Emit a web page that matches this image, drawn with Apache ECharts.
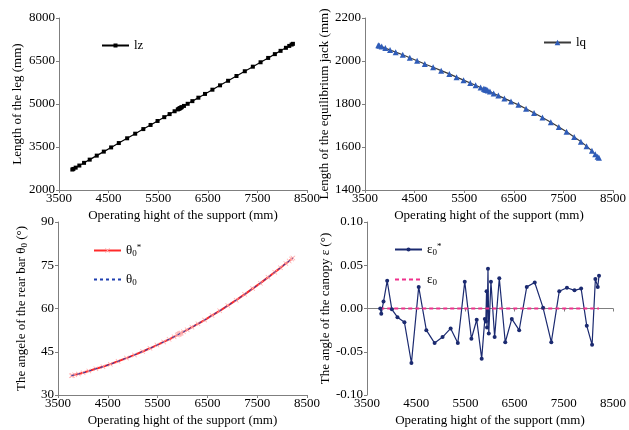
<!DOCTYPE html>
<html>
<head>
<meta charset="utf-8">
<script src="https://cdn.jsdelivr.net/npm/echarts@6/dist/echarts.min.js"></script>
<style>
html, body { margin: 0; padding: 0; background: #fff; }
#chart { width: 629px; height: 430px; }
</style>
</head>
<body>
<div id="chart"></div>
<script>
// operating height of the support (mm), shared by all four panels
const heights = [3769, 3790, 3836, 3910, 4005, 4119, 4261, 4403, 4551, 4706, 4874, 5036, 5200, 5346, 5487,
  5622, 5730, 5831, 5895, 5915, 5930, 5940, 5959, 5975, 6019, 6094, 6189, 6310, 6443, 6593, 6747, 6909,
  7078, 7246, 7408, 7564, 7717, 7852, 7967, 8075, 8142, 8190, 8216]
const lz = [2714, 2735, 2780, 2853, 2947, 3059, 3199, 3339, 3485, 3638, 3804, 3964, 4125, 4269, 4408,
  4541, 4648, 4747, 4811, 4830, 4845, 4855, 4874, 4890, 4933, 5007, 5100, 5220, 5351, 5499, 5651, 5810,
  5977, 6143, 6302, 6456, 6607, 6740, 6854, 6960, 7026, 7073, 7099]
const lq = [2073, 2071, 2067, 2060, 2051, 2041, 2029, 2015, 2001, 1986, 1971, 1955, 1940, 1925, 1911,
  1898, 1887, 1877, 1871, 1869, 1868, 1867, 1865, 1863, 1858, 1849, 1839, 1826, 1812, 1796, 1778, 1758,
  1737, 1715, 1693, 1671, 1646, 1625, 1604, 1582, 1566, 1555, 1550]
const thetaStar = [36.7, 36.8, 37.0, 37.3, 37.7, 38.3, 39.1, 39.8, 40.7, 41.7, 42.8, 43.9, 45.1, 46.2, 47.3,
  48.4, 49.3, 50.2, 50.8, 51.0, 51.1, 51.2, 51.4, 51.5, 51.9, 52.6, 53.5, 54.7, 56.0, 57.6, 59.2, 61.0,
  62.9, 64.9, 66.9, 68.8, 70.8, 72.6, 74.1, 75.6, 76.5, 77.2, 77.5]
const theta = [36.7, 36.8, 37.0, 37.3, 37.7, 38.3, 39.1, 39.8, 40.7, 41.7, 42.8, 43.9, 45.1, 46.2, 47.3,
  48.4, 49.3, 50.2, 50.8, 51.0, 51.1, 51.2, 51.4, 51.5, 51.9, 52.6, 53.5, 54.7, 56.0, 57.6, 59.2, 61.0,
  62.9, 64.9, 66.9, 68.8, 70.8, 72.6, 74.1, 75.6, 76.5, 77.2, 77.5]
const epsStar = [0.000, -0.006, 0.008, 0.032, -0.001, -0.010, -0.016, -0.063, 0.025, -0.025, -0.040, -0.033,
  -0.023, -0.040, 0.031, -0.035, -0.013, -0.058, -0.012, -0.015, 0.020, -0.022, 0.046, -0.029, 0.031,
  -0.033, 0.035, -0.039, -0.012, -0.025, 0.025, 0.030, 0.001, -0.039, 0.020, 0.024, 0.021, 0.023,
  -0.020, -0.042, 0.034, 0.025, 0.038]
const epsHeights = [3769, 8216]
const eps = [0, 0]

const font = "'Liberation Serif', 'Times New Roman', serif"
const axisGray = '#7f7f7f'
const pairs = (xs, ys) => xs.map((x, i) => [x, ys[i]])
const crossSymbol = 'path://M0,1L1,0L5,4L9,0L10,1L6,5L10,9L9,10L5,6L1,10L0,9L4,5Z'

const xAxis = (gridIndex) => ({
  type: 'value',
  gridIndex,
  min: 3500,
  max: 8500,
  interval: 1000,
  name: 'Operating hight of the support (mm)',
  nameLocation: 'middle',
  nameGap: 19,
  nameTextStyle: { fontFamily: font, fontSize: 13, color: '#000' },
  axisLine: { lineStyle: { color: axisGray } },
  axisTick: { length: 3, lineStyle: { color: axisGray } },
  axisLabel: { color: '#000', fontFamily: font, fontSize: 13, margin: 2, formatter: (v) => String(v) },
  splitLine: { show: false }
})

const yAxis = (gridIndex, min, max, interval, name, nameGap, fmt) => ({
  type: 'value',
  gridIndex,
  min,
  max,
  interval,
  name,
  nameLocation: 'middle',
  nameRotate: 90,
  nameGap,
  nameTextStyle: {
    fontFamily: font, fontSize: 13, color: '#000',
    rich: {
      a: { fontFamily: font, fontSize: 13, color: '#000' },
      s: { fontFamily: font, fontSize: 9, color: '#000', padding: [5, 0, 0, 0] }
    }
  },
  axisLine: { show: true, lineStyle: { color: axisGray } },
  axisTick: { show: true, length: 3, lineStyle: { color: axisGray } },
  axisLabel: { color: '#000', fontFamily: font, fontSize: 13, margin: 4, formatter: fmt || ((v) => String(v)) },
  splitLine: { show: false }
})

const legendRich = {
  a: { fontFamily: font, fontSize: 13, color: '#000' },
  sub: { fontFamily: font, fontSize: 9, color: '#000', padding: [6, 0, 0, 0] },
  sup: { fontFamily: font, fontSize: 9, color: '#000', padding: [0, 0, 6, 0] }
}
const legendLabels = {
  lz: '{a|lz}',
  lq: '{a|lq}',
  thetaStar: '{a|θ}{sub|0}{sup|*}',
  theta: '{a|θ}{sub|0}',
  epsStar: '{a|ε}{sub|0}{sup|*}',
  eps: '{a|ε}{sub|0}'
}
const legend = (items, left, top, itemHeight) => ({
  data: items,
  left,
  top,
  orient: 'vertical',
  itemWidth: 27,
  itemHeight,
  itemGap: 14 - itemHeight + 7,
  padding: 0,
  formatter: (n) => legendLabels[n],
  textStyle: { fontFamily: font, fontSize: 13, color: '#000', rich: legendRich }
})

const chart = echarts.init(document.getElementById('chart'))
chart.setOption({
  animation: false,
  backgroundColor: '#fff',
  grid: [
    { left: 59, top: 18, width: 248, height: 172 },
    { left: 365, top: 18, width: 249, height: 172 },
    { left: 58, top: 222, width: 249, height: 173 },
    { left: 367, top: 222, width: 247, height: 173 }
  ],
  xAxis: [xAxis(0), xAxis(1), xAxis(2), xAxis(3)],
  yAxis: [
    yAxis(0, 2000, 8000, 1500, 'Length of the leg (mm)', 35),
    yAxis(1, 1400, 2200, 200, 'Length of the equilibrium jack (mm)', 30),
    yAxis(2, 30, 90, 15, '{a|The angele of the rear bar θ}{s|0}{a| (°)}', 29),
    yAxis(3, -0.10, 0.10, 0.05, 'The angle of the canopy ε (°)', 35, (v) => v.toFixed(2))
  ],
  legend: [
    legend(['lz'], 101, 39, 5),
    legend(['lq'], 543, 36, 7),
    legend(['thetaStar', { name: 'theta', itemStyle: { opacity: 0 } }], 93, 243, 6),
    legend(['epsStar', { name: 'eps', itemStyle: { opacity: 0 } }], 394, 242, 5)
  ],
  series: [
    {
      name: 'lz', type: 'line', xAxisIndex: 0, yAxisIndex: 0,
      data: pairs(heights, lz),
      symbol: 'rect', symbolSize: 4,
      lineStyle: { color: '#000', width: 1.2 },
      itemStyle: { color: '#000' }
    },
    {
      name: 'lq', type: 'line', xAxisIndex: 1, yAxisIndex: 1,
      data: pairs(heights, lq),
      symbol: 'triangle', symbolSize: 6,
      lineStyle: { color: '#3b3b3b', width: 1.2 },
      itemStyle: { color: '#2f5cb8' }
    },
    {
      name: 'thetaStar', type: 'line', xAxisIndex: 2, yAxisIndex: 2,
      data: pairs(heights, thetaStar),
      symbol: crossSymbol, symbolSize: 5,
      lineStyle: { color: '#ff2a2a', width: 2 },
      itemStyle: { color: '#ffaaaa' }
    },
    {
      name: 'theta', type: 'line', xAxisIndex: 2, yAxisIndex: 2,
      data: pairs(heights, theta),
      symbol: 'none',
      lineStyle: { color: '#1f3fb0', width: 1, type: [3, 3] },
      itemStyle: { color: '#1f3fb0' },
      z: 5
    },
    {
      name: 'epsStar', type: 'line', xAxisIndex: 3, yAxisIndex: 3,
      data: pairs(heights, epsStar),
      symbol: 'circle', symbolSize: 4,
      lineStyle: { color: '#1b2a70', width: 1.2 },
      itemStyle: { color: '#1b2a70' }
    },
    {
      name: 'eps', type: 'line', xAxisIndex: 3, yAxisIndex: 3,
      data: pairs(epsHeights, eps),
      symbol: 'none',
      lineStyle: { color: '#f0308c', width: 1.8, type: [4, 3] },
      itemStyle: { color: '#f0308c' },
      z: 3
    }
  ]
})
</script>
</body>
</html>
